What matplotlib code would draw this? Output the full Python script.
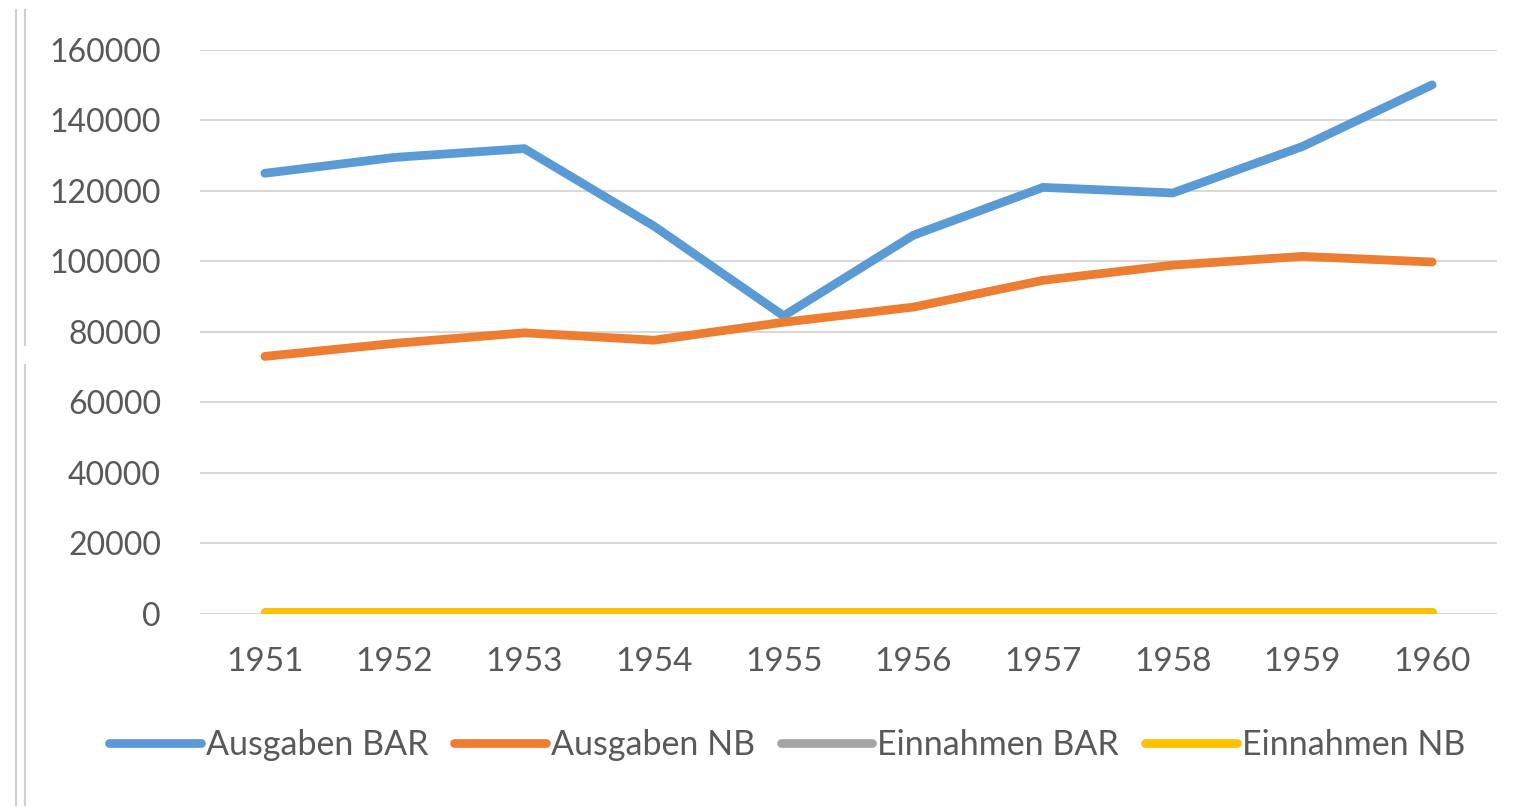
import matplotlib
matplotlib.use("Agg")
import matplotlib.pyplot as plt
from matplotlib.lines import Line2D

years = ["1951", "1952", "1953", "1954", "1955", "1956", "1957", "1958", "1959", "1960"]
ausgaben_bar = [125000, 129500, 132000, 110000, 84500, 107400, 121000, 119400, 132600, 150100]
ausgaben_nb = [73000, 76700, 79700, 77600, 82700, 87000, 94600, 98900, 101400, 99800]
einnahmen_bar = [400, 400, 400, 400, 400, 400, 400, 400, 400, 400]
einnahmen_nb = [500, 500, 500, 500, 500, 500, 500, 500, 500, 500]
series_names = ["Ausgaben BAR", "Ausgaben NB", "Einnahmen BAR", "Einnahmen NB"]
colors = ["#5B9BD5", "#ED7D31", "#A5A5A5", "#FFC000"]
y_ticks = [0, 20000, 40000, 60000, 80000, 100000, 120000, 140000, 160000]

plt.rcParams['font.family'] = ['Lato', 'DejaVu Sans']
text_color = "#595959"

W, H = 1540, 807
fig = plt.figure(figsize=(W / 100, H / 100), dpi=100)
ax = fig.add_axes([200 / W, (H - 613.5) / H, (1497 - 200) / W, (613.5 - 50) / H])

x = list(range(len(years)))
for vals, name, c in zip([ausgaben_bar, ausgaben_nb, einnahmen_bar, einnahmen_nb], series_names, colors):
    ax.plot(x, vals, color=c, lw=6.3, solid_capstyle='round', solid_joinstyle='round', label=name, zorder=3)

ax.set_xlim(-0.5, len(years) - 0.5)
ax.set_ylim(0, 160000)
ax.set_yticks(y_ticks)
ax.set_yticklabels([str(v) for v in y_ticks])
ax.set_xticks(x)
ax.set_xticklabels(years)
ax.grid(axis='y', color="#D9D9D9", lw=1.5, zorder=0)
ax.set_axisbelow(True)
for s in ax.spines.values():
    s.set_visible(False)
ax.tick_params(axis='y', length=0, labelsize=23, labelcolor=text_color, pad=28)
ax.tick_params(axis='x', length=0, labelsize=24, labelcolor=text_color, pad=24)

handles = [Line2D([0], [0], color=c, lw=6.3, solid_capstyle='round') for c in colors]
fig.legend(handles, series_names, loc='center', bbox_to_anchor=(787 / W, (H - 745) / H),
           ncol=4, frameon=False, fontsize=24.5, labelcolor=text_color,
           handlelength=2.7, handletextpad=0.15, columnspacing=0.75)

# chart frame artifacts on the left edge
fig.add_artist(Line2D([16 / W, 16 / W], [(H - 10) / H, (H - 805) / H], color="#D0D0D0", lw=1.5))
fig.add_artist(Line2D([25 / W, 25 / W], [(H - 10) / H, (H - 345) / H], color="#D0D0D0", lw=1.5))
fig.add_artist(Line2D([25 / W, 25 / W], [(H - 365) / H, (H - 805) / H], color="#D0D0D0", lw=1.5))

fig.savefig("out.png", dpi=100, facecolor="white")
